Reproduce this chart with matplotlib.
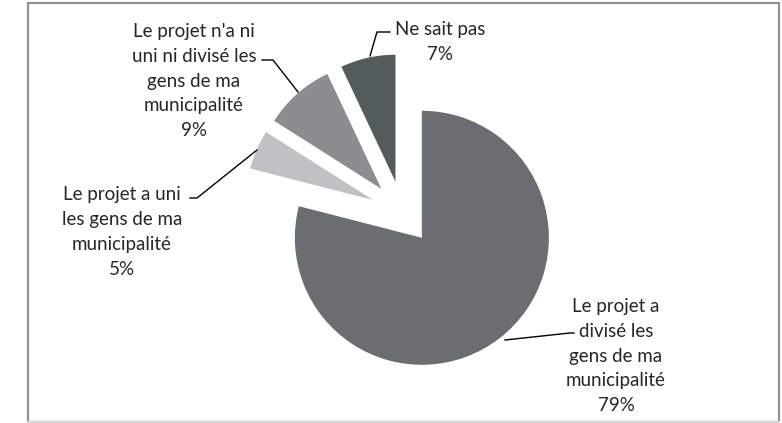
import matplotlib
matplotlib.use("Agg")
import matplotlib.pyplot as plt
from matplotlib.patches import Rectangle

# data
labels = ["Le projet a\ndivisé les\ngens de ma\nmunicipalité",
          "Le projet a uni\nles gens de ma\nmunicipalité",
          "Le projet n'a ni\nuni ni divisé les\ngens de ma\nmunicipalité",
          "Ne sait pas"]
values = [79, 5, 9, 7]
colors = ["#6b6e70", "#c0c1c3", "#8b8d8f", "#535b5b"]
explode_frac = [0.25, 0.25, 0.25, 0.25]

W, H = 782, 423
plt.rcParams["font.family"] = ["Lato", "DejaVu Sans"]

fig = plt.figure(figsize=(W / 100, H / 100), dpi=100)
ax = fig.add_axes([0, 0, 1, 1])

# frame
ax.add_patch(Rectangle((28, 1.5), 751, 419, fill=False, edgecolor="#8f9393", lw=1.6))
ax.plot([28, 779], [1.5, 1.5], color="#d8d8d8", lw=1.6)

cx, cy, r = 402.4, H - 212.7, 127
# matplotlib's explode is in data units, so scale by the radius
ax.pie(values, colors=colors, startangle=90, counterclock=False,
       explode=[e * r for e in explode_frac], radius=r, center=(cx, cy),
       frame=True, wedgeprops=dict(linewidth=0))
ax.set_xlim(0, W)
ax.set_ylim(0, H)
ax.set_aspect("equal")
ax.axis("off")

txt = dict(ha="center", va="center", fontsize=13.5, color="#262626", linespacing=1.55)
lab = [f"{l}\n{v}%" for l, v in zip(labels, values)]

ax.text(616, H - 356, lab[0], **txt)
ax.text(122, H - 232, lab[1], **txt)
ax.text(194, H - 81, lab[2], **txt)
ax.text(440, H - 42, lab[3], **txt)

lk = dict(color="black", lw=1)
ax.plot([505, 570, 574], [H - 340, H - 333, H - 333], **lk)
ax.plot([257, 197, 190], [H - 150, H - 198, H - 198], **lk)
ax.plot([298, 273, 262], [H - 92, H - 60, H - 60], **lk)
ax.plot([370, 377, 390], [H - 56, H - 32, H - 32], **lk)

fig.savefig("out.png", dpi=100)
